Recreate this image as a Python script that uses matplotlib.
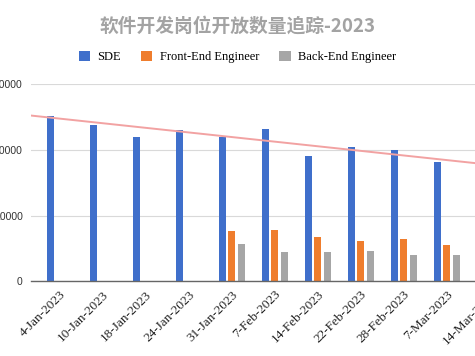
import matplotlib
matplotlib.use("Agg")
import matplotlib.pyplot as plt
import numpy as np

# weekly open positions
dates = ["4-Jan-2023", "10-Jan-2023", "18-Jan-2023", "24-Jan-2023", "31-Jan-2023",
         "7-Feb-2023", "14-Feb-2023", "22-Feb-2023", "28-Feb-2023", "7-Mar-2023",
         "14-Mar-2023"]
sde = [25200, 23700, 21900, 23000, 22000, 23200, 19100, 20500, 20000, 18100, 17000]
front_end = [0, 0, 0, 0, 7700, 7800, 6700, 6200, 6500, 5600, 5500]
back_end = [0, 0, 0, 0, 5700, 4500, 4500, 4700, 4100, 4100, 4000]
y_ticks = [0, 10000, 20000, 30000]

c_sde = "#3F6FCB"
c_fe = "#EF7D2D"
c_be = "#A6A6A6"

fig = plt.figure(figsize=(4.75, 3.56), dpi=100)
# axes deliberately run past the left/right edges of the canvas (cropped screenshot)
ax = fig.add_axes([0.0653, 0.2093, 1.02, 0.5547])

x = np.arange(len(dates))
w = 0.163
off = 0.22
ax.bar(x - off, sde, width=w, color=c_sde, label="SDE", zorder=3)
ax.bar(x, front_end, width=w, color=c_fe, label="Front-End Engineer", zorder=3)
ax.bar(x + off, back_end, width=w, color=c_be, label="Back-End Engineer", zorder=3)

# linear trendline for SDE
xlim = (-0.664, 10.6)
k, b = np.polyfit(x, sde, 1)
xt = np.array(xlim)
ax.plot(xt, k * xt + b, color="#F2A2A2", lw=1.4, zorder=4)

ax.set_xlim(*xlim)
ax.set_ylim(0, 30000)
ax.set_yticks(y_ticks)
ax.set_yticklabels([str(v) for v in y_ticks], family="Liberation Sans", fontsize=7.5, color="#333333")
ax.tick_params(axis="y", length=0, pad=6)
ax.set_xticks(x)
ax.set_xticklabels(dates, rotation=45, ha="right", rotation_mode="anchor",
                   family="Liberation Serif", fontsize=9.5, color="#222222")
ax.tick_params(axis="x", length=0, pad=5)

ax.grid(axis="y", color="#D9D9D9", lw=0.8, zorder=0)
for s in ["top", "right", "left"]:
    ax.spines[s].set_visible(False)
ax.spines["bottom"].set_color("#666666")
ax.spines["bottom"].set_linewidth(1.0)
ax.spines["bottom"].set_zorder(5)

fig.text(0.5, 0.927, "软件开发岗位开放数量追踪-2023", ha="center", va="center",
         family=["Noto Sans CJK SC", "DejaVu Sans"], fontweight="bold",
         fontsize=13.5, color="#A3A3A3")

handles, labels = ax.get_legend_handles_labels()
fig.legend(handles, labels, loc="center", bbox_to_anchor=(0.5, 0.84), ncol=3,
           frameon=False, handlelength=0.9, handleheight=0.9, handletextpad=0.6,
           columnspacing=1.6, prop={"family": "Liberation Serif", "size": 9})

fig.savefig("out.png", dpi=100)
